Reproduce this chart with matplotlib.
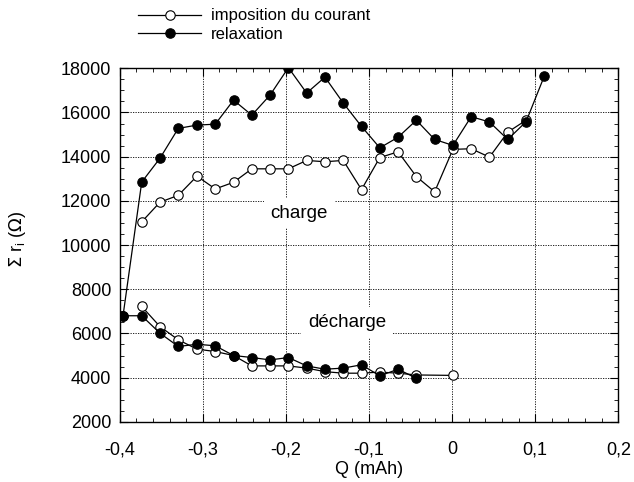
import matplotlib
matplotlib.use("Agg")
import matplotlib.pyplot as plt
from matplotlib.ticker import MultipleLocator, FixedLocator

plt.rcParams['font.family'] = ['Liberation Sans', 'DejaVu Sans']

# charge, imposition du courant (open)
q_ch_imp = [-0.3735, -0.3515, -0.3295, -0.307, -0.285, -0.263, -0.241, -0.219, -0.197,
            -0.175, -0.153, -0.131, -0.109, -0.087, -0.065, -0.043, -0.021, 0.001,
            0.023, 0.045, 0.067, 0.089]
r_ch_imp = [11050, 11940, 12250, 13120, 12540, 12840, 13450, 13450, 13450,
            13830, 13770, 13830, 12510, 13960, 14220, 13100, 12410, 14330,
            14360, 13980, 15110, 15650]

# charge, relaxation (filled)
q_ch_rel = [-0.396, -0.3735, -0.3515, -0.3295, -0.307, -0.285, -0.263, -0.241, -0.219, -0.197,
            -0.175, -0.153, -0.131, -0.109, -0.087, -0.065, -0.043, -0.021, 0.001,
            0.023, 0.045, 0.067, 0.089, 0.111]
r_ch_rel = [6800, 12850, 13930, 15280, 15430, 15470, 16560, 15880, 16790, 18030,
            16880, 17600, 16430, 15370, 14400, 14880, 15650, 14780, 14510,
            15810, 15570, 14780, 15580, 17650]

# décharge, imposition du courant (open)
q_dch_imp = [-0.3735, -0.3515, -0.3295, -0.307, -0.285, -0.263, -0.241, -0.219, -0.197,
             -0.175, -0.153, -0.131, -0.109, -0.087, -0.065, -0.043, 0.001]
r_dch_imp = [7220, 6310, 5710, 5290, 5180, 5000, 4530, 4530, 4530,
             4430, 4270, 4200, 4200, 4250, 4200, 4120, 4100]

# décharge, relaxation (filled)
q_dch_rel = [-0.396, -0.3735, -0.3515, -0.3295, -0.307, -0.285, -0.263, -0.241, -0.219, -0.197,
             -0.175, -0.153, -0.131, -0.109, -0.087, -0.065, -0.043]
r_dch_rel = [6800, 6800, 6010, 5410, 5510, 5440, 5000, 4910, 4800, 4910,
             4530, 4380, 4430, 4580, 4080, 4380, 3970]

x_ticks = [-0.4, -0.3, -0.2, -0.1, 0.0, 0.1, 0.2]
x_labels = ['-0,4', '-0,3', '-0,2', '-0,1', '0', '0,1', '0,2']
y_ticks = [2000, 4000, 6000, 8000, 10000, 12000, 14000, 16000, 18000]

fig = plt.figure(figsize=(6.34, 4.82), dpi=100)
ax = fig.add_axes([0.1888, 0.1249, 0.7864, 0.7334])

lw = 0.9
ms = 6.8
open_style = dict(color='black', lw=lw, marker='o', ms=ms, mfc='white', mec='black', mew=0.8)
fill_style = dict(color='black', lw=lw, marker='o', ms=ms, mfc='black', mec='black', mew=0.8)

l1, = ax.plot(q_ch_imp, r_ch_imp, **open_style, zorder=3)
l2, = ax.plot(q_ch_rel, r_ch_rel, **fill_style, zorder=4)
ax.plot(q_dch_imp, r_dch_imp, **open_style, zorder=3)
ax.plot(q_dch_rel, r_dch_rel, **fill_style, zorder=4)

ax.set_xlim(-0.4, 0.2)
ax.set_ylim(2000, 18000)
ax.xaxis.set_major_locator(FixedLocator(x_ticks))
ax.set_xticklabels(x_labels)
ax.yaxis.set_major_locator(FixedLocator(y_ticks))
ax.xaxis.set_minor_locator(MultipleLocator(0.02))
ax.yaxis.set_minor_locator(MultipleLocator(500))
ax.tick_params(which='both', direction='in', top=True, right=True, labelsize=13)
ax.tick_params(which='major', length=5.5, width=0.8)
ax.tick_params(which='minor', length=3, width=0.6)
ax.tick_params(axis='x', pad=14)
ax.tick_params(axis='y', pad=6)
ax.grid(True, which='major', color='black', linestyle=(0, (1.5, 1.5)), lw=0.6, zorder=1)
ax.set_axisbelow(True)
for s in ax.spines.values():
    s.set_linewidth(1.0)

ax.set_xlabel('Q (mAh)', fontsize=13, labelpad=2)
ax.set_ylabel(r'$\Sigma$ r$_{\mathregular{i}}$ ($\Omega$)', fontsize=13)
ax.yaxis.set_label_coords(-0.183, 0.515)

bb = dict(facecolor='white', edgecolor='none', pad=5)
ax.text(-0.184, 11450, 'charge', fontsize=13.5, ha='center', va='center', bbox=bb, zorder=2)
ax.text(-0.126, 6480, 'décharge', fontsize=13.5, ha='center', va='center', bbox=bb, zorder=2)

fig.legend([l1, l2], ['imposition du courant', 'relaxation'], loc='upper left',
           bbox_to_anchor=(0.205, 1.0), frameon=False, fontsize=12,
           handlelength=3.75, handletextpad=0.6, labelspacing=0.22, borderaxespad=0.1)

fig.savefig('out.png', dpi=100)
